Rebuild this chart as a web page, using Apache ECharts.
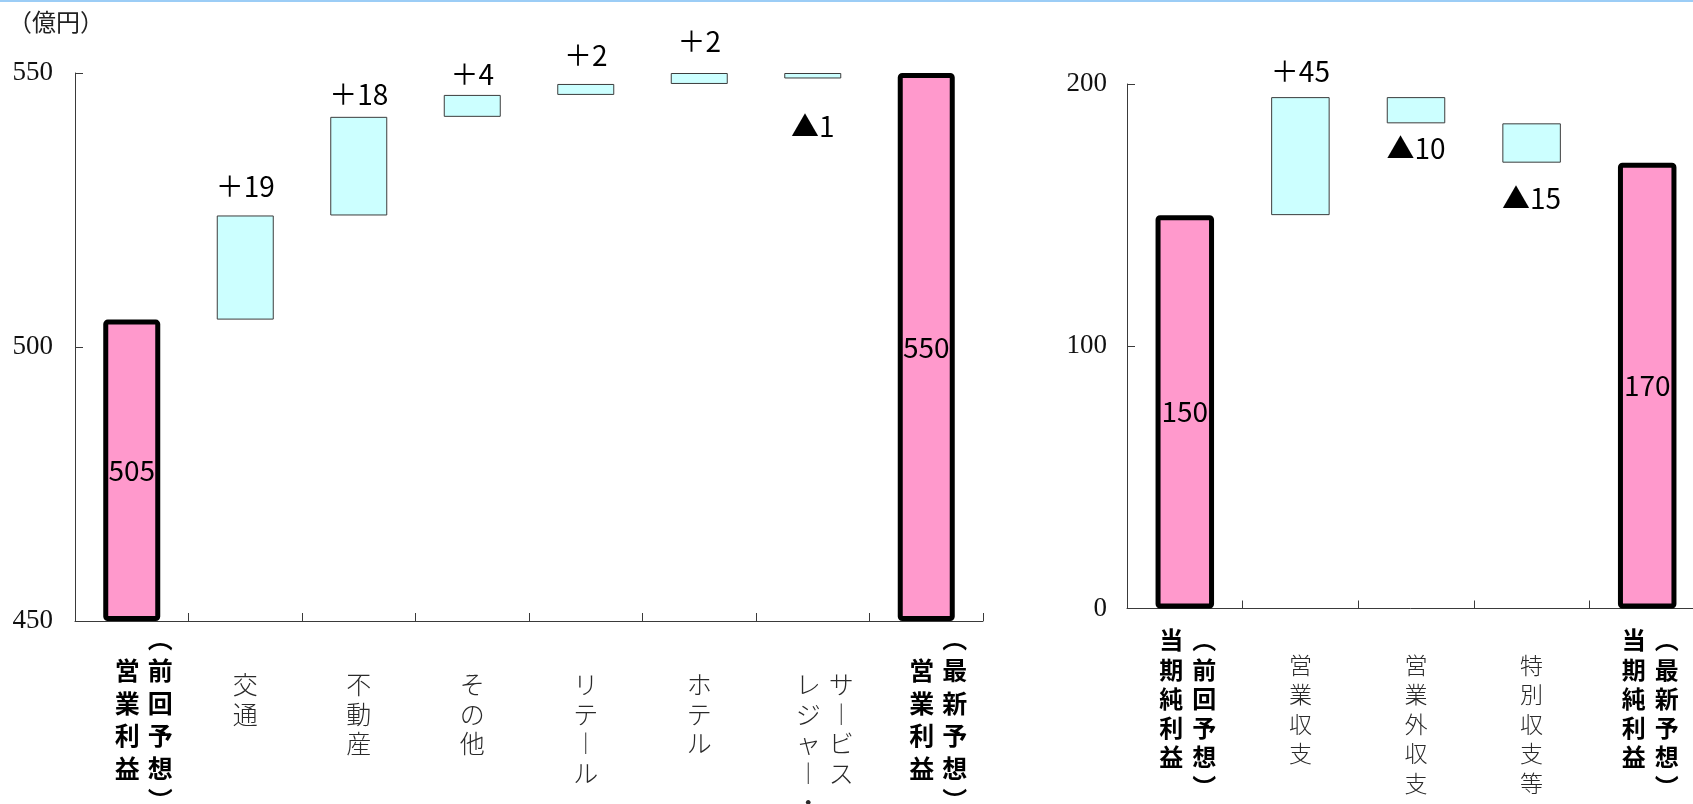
<!DOCTYPE html>
<html>
<head>
<meta charset="utf-8">
<script src="https://cdn.jsdelivr.net/npm/echarts@6/dist/echarts.min.js"></script>
<style>
  html, body { margin: 0; padding: 0; background: #fff; }
  #chart { width: 1693px; height: 804px; }
</style>
</head>
<body>
<div id="chart"></div>
<script>
// 営業利益の増減要因（億円）
const opCategories = ['営業利益（前回予想）', '交通', '不動産', 'その他', 'リテール', 'ホテル', 'レジャー・サービス', '営業利益（最新予想）'];
const opStart = 505;
const opChanges = [19, 18, 4, 2, 2, -1];
const opEnd = 550;
const opAxis = { min: 450, max: 550, interval: 50 };

// 当期純利益の増減要因（億円）
const niCategories = ['当期純利益（前回予想）', '営業収支', '営業外収支', '特別収支等', '当期純利益（最新予想）'];
const niStart = 150;
const niChanges = [45, -10, -15];
const niEnd = 170;
const niAxis = { min: 0, max: 200, interval: 100 };

// label gap (label centre to bar edge, px)
const opLabelGap = [0, 29, 22, 21, 29, 32, 48, 0];
const niLabelGap = [0, 26, 25, 36, 0];

const CJK = '"Noto Sans CJK JP", "Noto Sans", sans-serif';
const SERIF = '"Liberation Serif", "DejaVu Serif", "Noto Sans CJK JP", serif';
const TOTAL_FILL = '#ff99cc';
const STEP_FILL = '#ccffff';

// builds the invisible base + visible size arrays of a waterfall
function waterfall(start, changes, end, floor) {
  const base = [], size = [], kind = [], text = [];
  base.push(floor); size.push(start - floor); kind.push('total'); text.push(String(start));
  let level = start;
  changes.forEach(d => {
    base.push(d >= 0 ? level : level + d);
    size.push(Math.abs(d));
    kind.push(d >= 0 ? 'up' : 'down');
    text.push(d >= 0 ? '＋' + d : '▲' + (-d));
    level += d;
  });
  base.push(floor); size.push(end - floor); kind.push('total'); text.push(String(end));
  return { base, size, kind, text };
}

function barItems(wf, gaps) {
  return wf.size.map((v, i) => {
    const k = wf.kind[i];
    const item = { value: v };
    if (k === 'total') {
      item.itemStyle = { color: TOTAL_FILL, borderColor: '#000', borderWidth: 5, borderRadius: 2 };
      item.label = { show: true, position: 'inside', formatter: wf.text[i] };
    } else {
      item.itemStyle = { color: STEP_FILL, borderColor: '#3c3c3c', borderWidth: 1 };
      item.label = {
        show: true,
        position: k === 'up' ? 'top' : 'bottom',
        distance: Math.max(0, gaps[i] - 14),
        formatter: wf.text[i]
      };
    }
    return item;
  });
}

// vertical (tategaki) axis labels built from rich-text rows
const VERTICAL_FORMS = { '（': '︵', '）': '︶', 'ー': '︱' };
const toVertical = s => Array.from(s, ch => VERTICAL_FORMS[ch] || ch);
function splitColumns(label) {
  const p = label.indexOf('（');
  if (p > 0) return [label.slice(0, p), label.slice(p)];
  const d = label.indexOf('・');
  if (d > 0) return [label.slice(0, d + 1), label.slice(d + 1)];
  return [label];
}
function verticalLabel(label, totalLead) {
  const isTotal = label.indexOf('（') > 0;
  const cols = splitColumns(label).map(toVertical);
  const st = isTotal ? 'b' : 'n';
  const lines = [];
  if (!isTotal) lines.push('{gap|　}');
  if (cols.length === 1) {
    cols[0].forEach(ch => lines.push('{' + st + '|' + ch + '}'));
  } else {
    const lead = isTotal ? totalLead : 0;
    const rows = Math.max(cols[0].length + lead, cols[1].length);
    for (let r = 0; r < rows; r++) {
      const a = cols[0][r - lead] || '　';
      const b = cols[1][r] || '　';
      lines.push('{sp|　}{' + st + '|' + a + '}{' + st + '|' + b + '}');
    }
  }
  return lines.join('\n');
}

function categoryAxis(gridIndex, data, cfg) {
  return {
    type: 'category',
    gridIndex,
    data,
    axisLine: { show: true, lineStyle: { color: '#3a3a3a', width: 1 } },
    axisTick: { show: true, inside: true, length: 8, interval: 0, lineStyle: { color: '#3a3a3a' } },
    splitLine: { show: false },
    axisLabel: {
      interval: 0,
      margin: cfg.margin,
      formatter: v => verticalLabel(v, cfg.lead),
      rich: {
        b: { fontFamily: CJK, fontWeight: 'bold', fontSize: cfg.boldSize, lineHeight: cfg.boldLine, width: 33, align: 'center', color: '#000' },
        n: { fontFamily: CJK, fontWeight: 300, fontSize: cfg.normSize, lineHeight: cfg.normLine, width: 33, align: 'center', color: '#2a2a2a' },
        sp: { width: cfg.shift, fontSize: 8, lineHeight: 8, align: 'center' },
        gap: { width: 33, fontSize: 8, lineHeight: cfg.gap, align: 'center' }
      }
    }
  };
}

function valueAxis(gridIndex, range, margin) {
  return {
    type: 'value',
    gridIndex,
    min: range.min,
    max: range.max,
    interval: range.interval,
    axisLine: { show: true, lineStyle: { color: '#3a3a3a', width: 1 } },
    axisTick: { show: true, inside: true, length: 8, lineStyle: { color: '#3a3a3a' } },
    splitLine: { show: false },
    axisLabel: { margin, fontFamily: SERIF, fontSize: 27, color: '#111' }
  };
}

const opWf = waterfall(opStart, opChanges, opEnd, opAxis.min);
const niWf = waterfall(niStart, niChanges, niEnd, niAxis.min);

const dataLabel = { fontFamily: CJK, fontSize: 28, lineHeight: 28, color: '#000' };

function seriesPair(idx, wf, gaps, barWidth) {
  return [
    {
      type: 'bar', xAxisIndex: idx, yAxisIndex: idx, stack: 'wf' + idx,
      data: wf.base, barWidth, silent: true,
      itemStyle: { color: 'transparent' }, emphasis: { disabled: true }
    },
    {
      type: 'bar', xAxisIndex: idx, yAxisIndex: idx, stack: 'wf' + idx,
      data: barItems(wf, gaps), barWidth, clip: false, silent: true,
      label: dataLabel, emphasis: { disabled: true }
    }
  ];
}

const chart = echarts.init(document.getElementById('chart'), null, { renderer: 'canvas' });
chart.setOption({
  animation: false,
  backgroundColor: '#fff',
  grid: [
    { left: 75, top: 73, width: 908, height: 548, outerBoundsMode: 'none', containLabel: false },
    { left: 1127, top: 84, width: 578, height: 524.5, outerBoundsMode: 'none', containLabel: false }
  ],
  xAxis: [
    categoryAxis(0, opCategories, { margin: 1, lead: 1, boldSize: 25, boldLine: 32.5, normSize: 25, normLine: 29.5, gap: 48, shift: 24 }),
    categoryAxis(1, niCategories, { margin: 17, lead: 0, boldSize: 24, boldLine: 29.3, normSize: 23, normLine: 29.5, gap: 25, shift: 6 })
  ],
  yAxis: [
    valueAxis(0, opAxis, 22),
    valueAxis(1, niAxis, 20)
  ],
  series: [
    ...seriesPair(0, opWf, opLabelGap, 57),
    ...seriesPair(1, niWf, niLabelGap, 58.5)
  ],
  graphic: [
    { type: 'rect', left: 0, top: 0, shape: { width: 1693, height: 2 }, style: { fill: '#9ccdf6' }, silent: true },
    { type: 'text', x: 8, y: 25, style: { text: '（億円）', font: '24px ' + SERIF, fill: '#222', textVerticalAlign: 'middle' }, silent: true }
  ]
});
</script>
</body>
</html>
